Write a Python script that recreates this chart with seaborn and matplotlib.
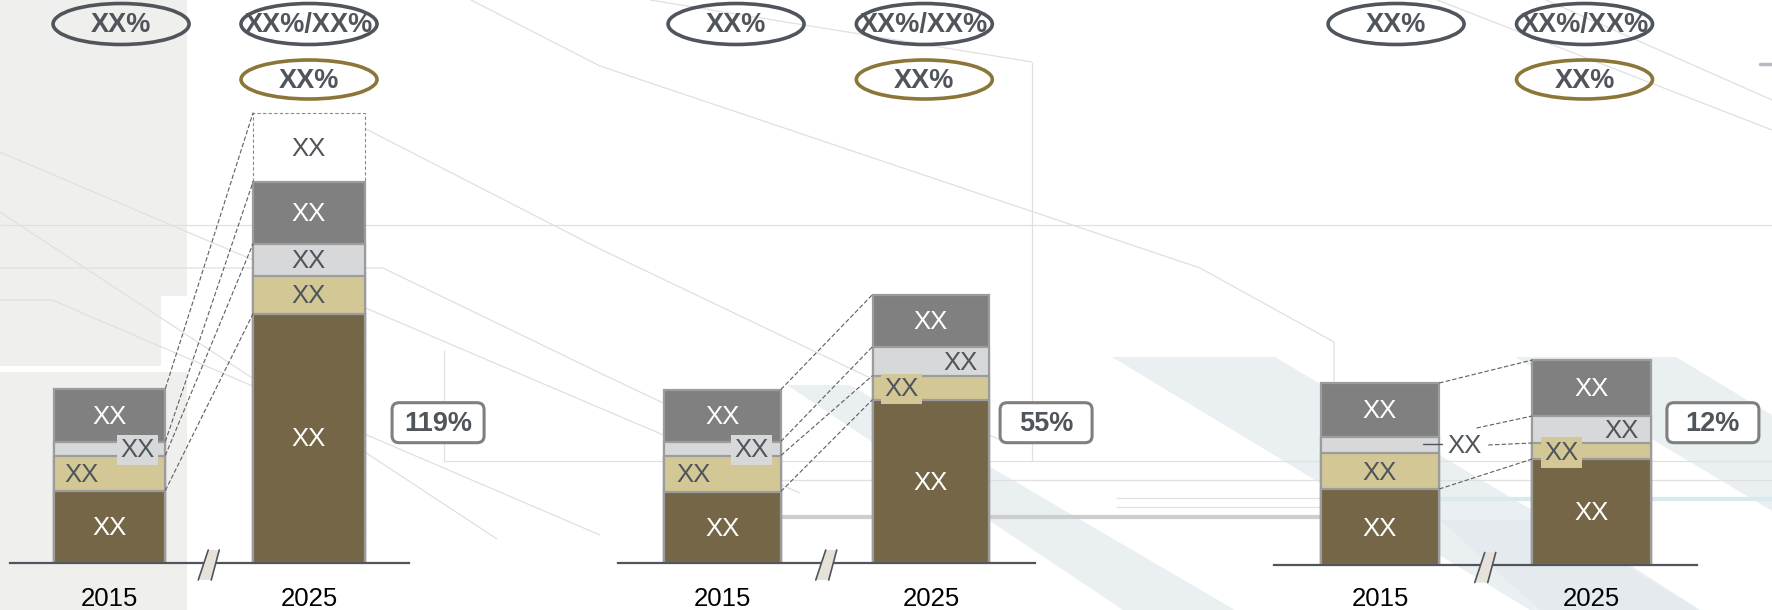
import matplotlib
matplotlib.use('Agg')
import numpy as np
import pandas as pd
import matplotlib.pyplot as plt
import matplotlib.transforms as mtransforms
from matplotlib.patches import Ellipse, FancyBboxPatch, Polygon, Rectangle
import seaborn as sns

# ---------------- data ----------------
years = ['2015', '2025']
segments = ['base', 'beige', 'light', 'dark', 'extra']
panel1_2015 = [72, 35, 14, 53]
panel1_2025 = [249, 38, 32, 62, 69]
panel2_2015 = [71, 36, 14, 52]
panel2_2025 = [163, 24, 29, 52]
panel3_2015 = [76, 36, 16, 54]
panel3_2025 = [106, 16, 27, 56]
growth_labels = ['119%', '55%', '12%']
top_labels = ['XX%', 'XX%/XX%']
share_label = 'XX%'
segment_label = 'XX'

# ---------------- style ----------------
sns.set_theme(style='white')
plt.rcParams['font.family'] = ['Liberation Sans', 'DejaVu Sans']

C_BROWN = '#756647'
C_BEIGE = '#D3C796'
C_LIGHT = '#D7D8DA'
C_DARK = '#808080'
C_EDGE = '#9C9C9C'
C_TEXT = '#50555C'
C_GOLD = '#8C7637'
seg_style = {
    'base': dict(fc=C_BROWN, tc='white'),
    'beige': dict(fc=C_BEIGE, tc=C_TEXT),
    'light': dict(fc=C_LIGHT, tc=C_TEXT),
    'dark': dict(fc=C_DARK, tc='white'),
    'extra': dict(fc='white', tc=C_TEXT),
}

W, H = 1772, 610
fig = plt.figure(figsize=(W / 100, H / 100), dpi=100)
fig.patch.set_facecolor('white')

# ---------------- decorative background ----------------
bg = fig.add_axes([0, 0, 1, 1], zorder=0)
bg.set_xlim(0, W)
bg.set_ylim(H, 0)
bg.axis('off')
bg.add_patch(Rectangle((0, 0), 187, H, color='#EFEFED', lw=0))
bg.add_patch(Rectangle((161, 296), 30, 76, color='white', lw=0))
bg.add_patch(Rectangle((0, 366), 161, 6, color='white', lw=0))
band_color = '#E2E9EC'
for poly in [
    [(787, 385), (850, 385), (1235, 610), (1123, 610)],
    [(1112, 357), (1275, 357), (1700, 610), (1530, 610)],
    [(1515, 357), (1676, 357), (1772, 415), (1772, 511)],
    [(1440, 520), (1560, 520), (1700, 610), (1540, 610)],
]:
    bg.add_patch(Polygon(poly, closed=True, fc=band_color, ec='none', alpha=0.7))
line_c = '#E0E0E0'
for pts in [
    [(0, 152), (600, 408), (800, 493)],
    [(0, 212), (497, 539)],
    [(0, 300), (52, 300), (600, 535)],
    [(0, 225), (W, 225)],
    [(0, 268), (383, 268), (600, 373), (720, 430)],
    [(444, 350), (444, 461), (W, 461)],
    [(1032, 62), (1032, 461)],
    [(650, 0), (1032, 62)],
    [(471, 0), (600, 66), (1200, 268), (1334, 342), (1334, 470)],
    [(364, 128), (600, 249), (1000, 440)],
    [(1437, 0), (W, 130)],
    [(1546, 0), (W, 100)],
    [(700, 480), (W, 480)],
    [(1116, 498), (W, 498)],
    [(1116, 507), (1441, 507)],
]:
    xs, ys = zip(*pts)
    bg.plot(xs, ys, color=line_c, lw=0.9, solid_capstyle='butt')
bg.plot([783, 1321], [517, 517], color='#CDCDCD', lw=3)
bg.plot([1441, W], [499, 499], color='#D8EAEE', lw=3)
bg.plot([1760, W], [64, 64], color='#B5BBC0', lw=2.5)

# ---------------- panels ----------------
panels = [
    dict(c0=109.5, d=199.5, base=562.5, v15=panel1_2015, v25=panel1_2025,
         oval_x=(0.058, 1.0), pct_x=1.647, pad=17.5,
         links=[(4, 5), (3, 4), (2, 3), (1, 1)],
         labels={('2015', 'light'): ('right', True), ('2015', 'beige'): ('left', False)}),
    dict(c0=722.5, d=208.5, base=562.5, v15=panel2_2015, v25=panel2_2025,
         oval_x=(0.065, 0.968), pct_x=1.552, pad=17.5,
         links=[(4, 4), (3, 3), (2, 2), (1, 1)],
         labels={('2015', 'light'): ('right', True), ('2015', 'beige'): ('left', False),
                 ('2025', 'light'): ('right', False), ('2025', 'beige'): ('left', True)}),
    dict(c0=1380, d=211.5, base=565, v15=panel3_2015, v25=panel3_2025,
         oval_x=(0.076, 0.967), pct_x=1.574, pad=15.8,
         links=[(4, 4), (1, 1)],
         labels={('2015', 'light'): ('out', False), ('2025', 'light'): ('right', False),
                 ('2025', 'beige'): ('left', True)}),
]

BAR_W = 0.56
offsets = {'center': 0.0, 'left': -0.14, 'right': 0.14}


def blend(ax):
    return mtransforms.blended_transform_factory(ax.transData, fig.transFigure)


def anchor(ax, x, y_px):
    return mtransforms.ScaledTranslation(x, 1 - y_px / H, blend(ax))


for pi, p in enumerate(panels):
    ax = fig.add_axes([(p['c0'] - p['d'] / 2) / W, (H - p['base']) / H,
                       2 * p['d'] / W, p['base'] / H], zorder=1)
    ax.patch.set_alpha(0)

    rows = []
    for yr, vals in zip(years, [p['v15'], p['v25']]):
        cum = 0
        for seg, v in zip(segments, vals):
            rows.append(dict(year=yr, segment=seg, value=v, bottom=cum, top=cum + v))
            cum += v
    df = pd.DataFrame(rows)

    for seg in reversed(segments):
        sub = df[df.segment == seg]
        if sub.empty:
            continue
        if seg == 'extra':
            sns.barplot(data=sub, x='year', y='top', order=years, color='white',
                        saturation=1, width=BAR_W, edgecolor='#8A8A8A', linewidth=0.8,
                        linestyle=(0, (3, 2)), errorbar=None, ax=ax)
        else:
            sns.barplot(data=sub, x='year', y='top', order=years,
                        color=seg_style[seg]['fc'], saturation=1, width=BAR_W,
                        edgecolor=C_EDGE, linewidth=1.6, errorbar=None, ax=ax)

    ax.set_xlim(-0.5, 1.5)
    ax.set_ylim(0, p['base'])
    ax.set_xlabel('')
    ax.set_ylabel('')
    ax.set_yticks([])
    ax.tick_params(axis='x', length=0, pad=p['pad'], labelsize=18.5, labelcolor='black')
    for s in ['left', 'right', 'top']:
        ax.spines[s].set_visible(False)
    ax.spines['bottom'].set_color(C_TEXT)
    ax.spines['bottom'].set_linewidth(1.6)

    cum15 = np.concatenate([[0], np.cumsum(p['v15'])])
    cum25 = np.concatenate([[0], np.cumsum(p['v25'])])
    half = BAR_W / 2

    # segment labels
    for r in df.itertuples():
        xi = years.index(r.year)
        align, boxed = p['labels'].get((r.year, r.segment), ('center', False))
        ymid = (r.bottom + r.top) / 2
        st = seg_style[r.segment]
        if align == 'out':
            lx = 0.40
            ax.text(lx, ymid - 1, segment_label, ha='center', va='center', fontsize=18.5,
                    color=C_TEXT, zorder=6)
            ax.plot([xi + half - 0.075, xi + half + 0.015], [ymid + 1, ymid + 1],
                    color=C_TEXT, lw=1.0, zorder=6)
            for sx, dy, k in [(0.457, 17, 3), (0.512, 0, 2)]:
                ax.plot([sx, 1 - half], [ymid + dy, cum25[k]], color='#5E5E5E', lw=0.8,
                        linestyle=(0, (4, 2)), zorder=2)
            continue
        x = xi + offsets[align]
        bbox = dict(boxstyle='square,pad=0.13', fc=st['fc'], ec='none') if boxed else None
        ax.text(x, ymid - 1.5, segment_label, ha='center', va='center', fontsize=18.5,
                color=st['tc'], bbox=bbox, zorder=6)

    # dashed connectors between bars
    for i15, i25 in p['links']:
        ax.plot([half, 1 - half], [cum15[i15], cum25[i25]], color='#5E5E5E', lw=0.8,
                linestyle=(0, (4, 2)), zorder=2)

    # axis break mark
    brk = anchor(ax, 0.5, p['base'] + 1.5)
    ax.add_artist(Polygon([(-11, -16), (2, -16), (10, 14), (-1, 14)], closed=True,
                          fc='#E6E2DA', ec='none', transform=brk, zorder=4, clip_on=False))
    for seg_pts in [[(-11, -16), (-1, 14)], [(2, -16), (10, 14)]]:
        xs, ys = zip(*seg_pts)
        ax.add_artist(plt.Line2D(xs, ys, color=C_TEXT, lw=1.2, transform=brk,
                                 zorder=5, clip_on=False))

    # ovals above bars
    bl = blend(ax)
    for xi, (ox, txt) in enumerate(zip(p['oval_x'], top_labels)):
        ax.add_artist(Ellipse((0, 0), 136, 41, fc='none', ec=C_TEXT, lw=2.6,
                              transform=anchor(ax, ox, 24), clip_on=False, zorder=6))
        ax.text(ox, 1 - 25 / H, txt, transform=bl, ha='center', va='center',
                fontsize=19.5, fontweight='bold', color=C_TEXT, zorder=7, clip_on=False)
    ox = p['oval_x'][1]
    ax.add_artist(Ellipse((0, 0), 136, 39, fc='none', ec=C_GOLD, lw=2.6,
                          transform=anchor(ax, ox, 79.5), clip_on=False, zorder=6))
    ax.text(ox, 1 - 80.5 / H, share_label, transform=bl, ha='center', va='center',
            fontsize=19.5, fontweight='bold', color=C_TEXT, zorder=7, clip_on=False)

    # growth box
    ax.add_artist(FancyBboxPatch((-46, -20), 92, 40,
                                 boxstyle='round,pad=0,rounding_size=7',
                                 fc='white', ec='#7F7F7F', lw=2.2,
                                 transform=anchor(ax, p['pct_x'], 422.7),
                                 clip_on=False, zorder=6))
    ax.text(p['pct_x'], 1 - 424 / H, growth_labels[pi], transform=bl, ha='center',
            va='center', fontsize=19.5, fontweight='bold', color=C_TEXT, zorder=7,
            clip_on=False)

fig.savefig('out.png', dpi=100)
